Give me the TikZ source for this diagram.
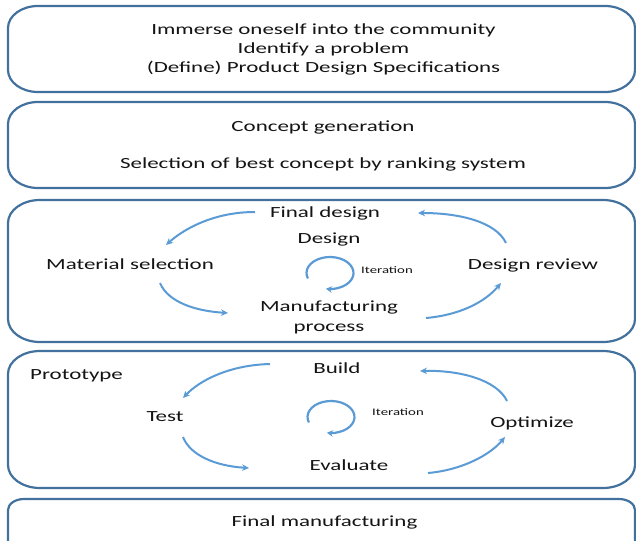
\documentclass[tikz,border=0pt]{standalone}
\usepackage{fontspec}
\setmainfont{Carlito}[FakeStretch=1.48]
\usetikzlibrary{arrows.meta}
\definecolor{framec}{RGB}{65,113,156}
\definecolor{arrc}{RGB}{91,155,213}
\definecolor{txtc}{RGB}{20,20,20}
\newcommand\myrrect[6]{\draw[frame] ({#1+#5},#2) -- ({#3-#5},#2) arc[start angle=90,end angle=0,x radius=#5pt,y radius=#6pt] -- (#3,{#4+#6}) arc[start angle=0,end angle=-90,x radius=#5pt,y radius=#6pt] -- ({#1+#5},#4) arc[start angle=270,end angle=180,x radius=#5pt,y radius=#6pt] -- (#1,{#2-#6}) arc[start angle=180,end angle=90,x radius=#5pt,y radius=#6pt] -- cycle;}
\begin{document}
\begin{tikzpicture}[x=1pt,y=1pt,
 frame/.style={draw=framec,line width=2.2pt},
 lbl/.style={text=txtc,font=\fontsize{15.5}{19}\selectfont,inner sep=0pt,anchor=base,align=center},
 small/.style={text=txtc,font=\fontsize{10}{12}\selectfont,inner sep=0pt,anchor=base},
 flow/.style={draw=arrc,line width=2pt,-{Stealth[length=7pt,width=6.5pt]}},
 iter/.style={draw=arrc,line width=2.2pt,-{Stealth[length=6pt,width=6.5pt]}}]
\useasboundingbox (0,0) rectangle (636,-540);
\fill[white] (0,0) rectangle (636,-540);
% frames
\myrrect{8}{-6}{635}{-92}{30}{22}
\myrrect{8}{-102}{635}{-188}{30}{22}
\myrrect{8}{-200}{635}{-342}{32}{23}
\myrrect{8}{-351}{635}{-488}{32}{23}
\myrrect{8}{-499}{635}{-560}{16}{11}
% texts (multi-line nodes: base anchor is the last line's baseline)
\node[lbl] (s1) at (323.5,-72.5) {Immerse oneself into the community\\Identify a problem\\(Define) Product Design Specifications};
\node[lbl] (cg) at (323,-131.5) {Concept generation};
\node[lbl] (sel) at (323,-168.5) {Selection of best concept by ranking system};
\node[lbl] (fd) at (325,-217.5) {Final design};
\node[lbl] (des) at (329,-243.5) {Design};
\node[lbl] (mat) at (130,-269.5) {Material selection};
\node[lbl] (rev) at (533,-269.5) {Design review};
\node[small] (it1) at (387,-273.5) {Iteration};
\node[lbl,font=\fontsize{15.5}{20}\selectfont] (mfg) at (329,-331.5) {Manufacturing\\process};
\node[lbl,anchor=base west] (proto) at (30,-379.5) {Prototype};
\node[lbl] (build) at (337,-373.5) {Build};
\node[lbl] (test) at (165,-421.5) {Test};
\node[lbl] (opt) at (532,-427.5) {Optimize};
\node[lbl] (evl) at (349,-470.5) {Evaluate};
\node[small] (it2) at (398,-415.5) {Iteration};
\node[lbl] (fm) at (324.5,-526.5) {Final manufacturing};
% connector ends
\coordinate (a1s) at (255,-212); \coordinate (a1e) at (166,-245);
\coordinate (a2s) at (160,-283); \coordinate (a2e) at (228,-313);
\coordinate (a3s) at (426,-318); \coordinate (a3e) at (501,-283);
\coordinate (a4s) at (506,-243); \coordinate (a4e) at (418,-213);
\coordinate (b1s) at (270,-364); \coordinate (b1e) at (183,-398);
\coordinate (b2s) at (183,-437); \coordinate (b2e) at (249,-468);
\coordinate (b3s) at (428,-473); \coordinate (b3e) at (505,-437);
\coordinate (b4s) at (507,-401); \coordinate (b4e) at (420,-371);
\coordinate (c1) at (330,-273);
\coordinate (c2) at (331,-417);
% arrows
\draw[flow] (a1s) .. controls (215,-212) and (185,-228) .. (a1e);
\draw[flow] (a2s) .. controls (168,-302) and (195,-311) .. (a2e);
\draw[flow] (a3s) .. controls (460,-315) and (485,-302) .. (a3e);
\draw[flow] (a4s) .. controls (496,-222) and (460,-213) .. (a4e);
\draw[flow] (b1s) .. controls (230,-365) and (200,-380) .. (b1e);
\draw[flow] (b2s) .. controls (190,-455) and (215,-466) .. (b2e);
\draw[flow] (b3s) .. controls (462,-470) and (490,-455) .. (b3e);
\draw[flow] (b4s) .. controls (497,-380) and (460,-370) .. (b4e);
% iteration loops
\draw[iter] (c1) ++(200:23.5pt and 16pt) arc[start angle=200,end angle=-100,x radius=23.5pt,y radius=16pt];
\draw[iter] (c2) ++(200:23.5pt and 16pt) arc[start angle=200,end angle=-100,x radius=23.5pt,y radius=16pt];
\end{tikzpicture}
\end{document}
